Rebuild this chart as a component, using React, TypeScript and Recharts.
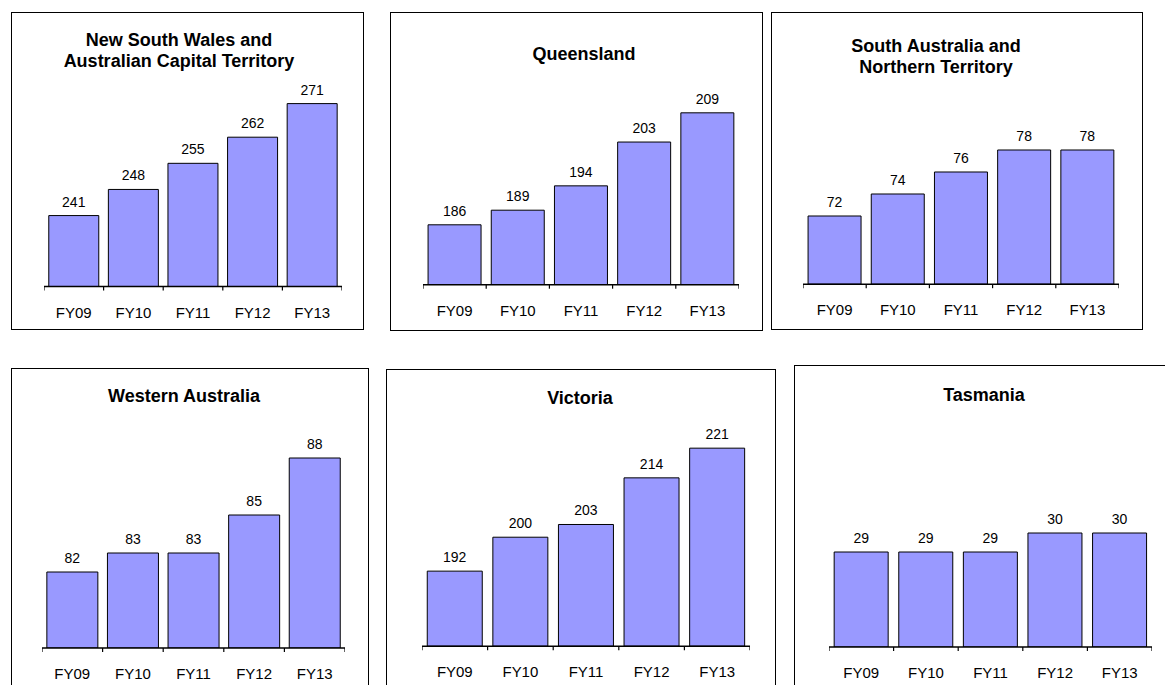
import React from "react";
import { Bar, BarChart, LabelList, XAxis, YAxis } from "recharts";

const years = ["FY09", "FY10", "FY11", "FY12", "FY13"];
const nswAct = [241, 248, 255, 262, 271];
const qld = [186, 189, 194, 203, 209];
const saNt = [72, 74, 76, 78, 78];
const wa = [82, 83, 83, 85, 88];
const vic = [192, 200, 203, 214, 221];
const tas = [29, 29, 29, 30, 30];

const FONT = '"Liberation Sans", Arial, sans-serif';
const AXIS_H = 40;

type Panel = {
  title: string[];
  values: number[];
  domain: [number, number];
  box: { l: number; t: number; r: number; b: number };
  x0: number;
  x1: number;
  axisY: number;
  plotTop: number;
  titleX: number;
  titleBase: number;
};

const panels: Panel[] = [
  {
    title: ["New South Wales and", "Australian Capital Territory"],
    values: nswAct,
    domain: [222, 280],
    box: { l: 11, t: 12, r: 364, b: 330 },
    x0: 44, x1: 342, axisY: 286, plotTop: 69.5,
    titleX: 179, titleBase: 47,
  },
  {
    title: ["Queensland"],
    values: qld,
    domain: [173.7, 218],
    box: { l: 390, t: 12, r: 763, b: 331 },
    x0: 423, x1: 739, axisY: 285, plotTop: 69.3,
    titleX: 584, titleBase: 61,
  },
  {
    title: ["South Australia and", "Northern Territory"],
    values: saNt,
    domain: [65.8, 85],
    box: { l: 771, t: 12, r: 1143, b: 330 },
    x0: 803, x1: 1119, axisY: 284, plotTop: 72.8,
    titleX: 936, titleBase: 53,
  },
  {
    title: ["Western Australia"],
    values: wa,
    domain: [78, 90],
    box: { l: 11, t: 368, r: 369, b: 720 },
    x0: 42, x1: 345, axisY: 648, plotTop: 420,
    titleX: 184, titleBase: 403,
  },
  {
    title: ["Victoria"],
    values: vic,
    domain: [174.3, 230],
    box: { l: 386, t: 369, r: 776, b: 720 },
    x0: 422, x1: 750, axisY: 646, plotTop: 409.8,
    titleX: 580, titleBase: 405,
  },
  {
    title: ["Tasmania"],
    values: tas,
    domain: [24, 36],
    box: { l: 794, t: 365, r: 1200, b: 720 },
    x0: 829, x1: 1152, axisY: 647, plotTop: 419,
    titleX: 984, titleBase: 402,
  },
];

const makeTick = (band: number, count: number) => (props: any) => {
  const { x, y, payload, index } = props;
  return (
    <g>
      <line x1={x - band / 2} y1={y} x2={x - band / 2} y2={y + 4} stroke="#000" strokeWidth={1.2} />
      {index === count - 1 && (
        <line x1={x + band / 2} y1={y} x2={x + band / 2} y2={y + 4} stroke="#000" strokeWidth={1.2} />
      )}
      <text x={x} y={y + 31} textAnchor="middle" fontSize={15} fontFamily={FONT} fill="#000">
        {payload.value}
      </text>
    </g>
  );
};

const RegionChart = ({ p }: { p: Panel }) => {
  const data = years.map((y, i) => ({ year: y, v: p.values[i] }));
  const w = p.x1 - p.x0;
  const h = p.axisY - p.plotTop + AXIS_H;
  const band = w / years.length;
  return (
    <>
      <div
        style={{
          position: "absolute",
          left: p.box.l,
          top: p.box.t,
          width: p.box.r - p.box.l,
          height: p.box.b - p.box.t,
          border: "1px solid #000",
          boxSizing: "border-box",
        }}
      />
      {p.title.map((line, i) => (
        <div
          key={line}
          style={{
            position: "absolute",
            left: p.titleX - 200,
            width: 400,
            top: p.titleBase + i * 21 - 16.7,
            lineHeight: "21px",
            fontSize: 18,
            fontWeight: "bold",
            fontFamily: FONT,
            textAlign: "center",
            whiteSpace: "nowrap",
          }}
        >
          {line}
        </div>
      ))}
      <div style={{ position: "absolute", left: p.x0, top: p.plotTop }}>
        <BarChart
          width={w}
          height={h}
          data={data}
          margin={{ top: 0, right: 0, bottom: 0, left: 0 }}
          barCategoryGap="8%"
          style={{ overflow: "visible" }}
        >
          <XAxis
            dataKey="year"
            height={AXIS_H}
            axisLine={{ stroke: "#000", strokeWidth: 1.5 }}
            tickLine={false}
            tickSize={0}
            tickMargin={0}
            interval={0}
            tick={makeTick(band, years.length)}
          />
          <YAxis hide type="number" domain={p.domain} allowDataOverflow />
          <Bar dataKey="v" fill="#9999FF" stroke="#000" strokeWidth={1} isAnimationActive={false}>
            <LabelList dataKey="v" position="top" offset={9} fill="#000" fontSize={14} fontFamily={FONT} />
          </Bar>
        </BarChart>
      </div>
    </>
  );
};

export default function App() {
  return (
    <div
      style={{
        position: "absolute",
        left: 0,
        top: 0,
        width: 1165,
        height: 685,
        overflow: "hidden",
        background: "#fff",
      }}
    >
      {panels.map((p) => (
        <RegionChart key={p.title.join(" ")} p={p} />
      ))}
    </div>
  );
}
